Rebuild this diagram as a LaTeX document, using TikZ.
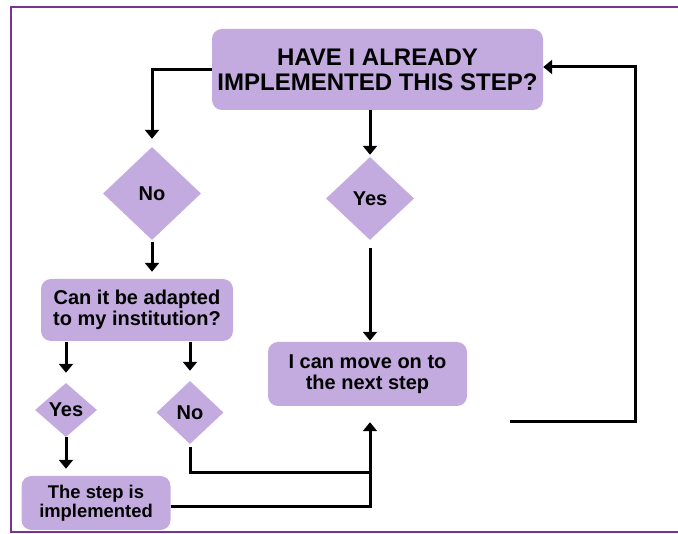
\documentclass[tikz,border=0pt]{standalone}
\usepackage{fontspec}
\setmainfont{Liberation Sans}
\usepackage{xcolor}
\usepackage{tikz}
\usetikzlibrary{shapes.geometric, arrows.meta}
\definecolor{lilac}{HTML}{C3ABE0}
\definecolor{framepurple}{HTML}{7A3393}

\begin{document}
\begin{tikzpicture}[x=1pt, y=-1pt,
    box/.style={rectangle, rounded corners=10pt, fill=lilac, align=center, inner sep=0pt, font=\bfseries\fontsize{20}{20.5}\selectfont},
    choice/.style={diamond, fill=lilac, inner sep=0pt, font=\bfseries\fontsize{20}{20}\selectfont},
    link/.style={line width=3pt},
    arr/.style={link, -{Triangle[width=14pt,length=9pt]}}]
        \useasboundingbox (0,0) rectangle (678,534);
        % Frame
        \draw[framepurple, line width=2.5pt] (700,7) -- (11,7) -- (11,532) -- (700,532);

        % Questions and answers
        \node[box, minimum width=331, minimum height=81, font=\bfseries\fontsize{24}{25}\selectfont] (question) at (377.5,69.5) {HAVE I ALREADY\\IMPLEMENTED THIS STEP?};
        \node[choice, minimum width=98, minimum height=93] (notyet) at (152,193.5) {No};
        \node[choice, minimum width=88, minimum height=83] (already) at (370,198.5) {Yes};
        \node[box, minimum width=192, minimum height=62] (adapt) at (137,310) {Can it be adapted\\to my institution?};
        \node[box, minimum width=199, minimum height=64] (moveon) at (367.5,374) {I can move on to\\the next step};
        \node[choice, minimum width=62, minimum height=54] (canadapt) at (66,410) {Yes};
        \node[choice, minimum width=67, minimum height=63] (cannot) at (190,412.5) {No};
        \node[box, minimum width=149, minimum height=54, font=\bfseries\fontsize{18.4}{19}\selectfont] (done) at (96,503) {The step is\\implemented};

        \coordinate (merge) at (370,473);
        \coordinate (loopstart) at (510,422);
        \coordinate (loopcorner) at (635,67);

        % Arrows
        \draw[arr, shorten >=8pt] (question.west) -| (notyet.north);
        \draw[arr, shorten >=2pt] (already.north |- question.south) -- (already.north);
        \draw[arr, shorten <=8pt, shorten >=1pt] (already.south) -- (already.south |- moveon.north);
        \draw[arr, shorten <=2pt, shorten >=7pt] (notyet.south) -- (notyet.south |- adapt.north);
        \draw[arr, shorten <=1pt, shorten >=10pt] (adapt.south -| canadapt) -- (canadapt.north);
        \draw[arr, shorten <=1pt, shorten >=10pt] (adapt.south -| cannot) -- (cannot.north);
        \draw[arr, shorten >=7pt] (canadapt.south) -- (canadapt.south |- done.north);
        \draw[link, shorten <=3pt] (cannot.south) |- (merge);
        \draw[arr, shorten >=16pt] ([yshift=-4pt]done.east) -| ([xshift=2.5pt]moveon.south);
        \draw[arr] (loopstart) -| (loopcorner) -- (question.east |- loopcorner);
\end{tikzpicture}
\end{document}
